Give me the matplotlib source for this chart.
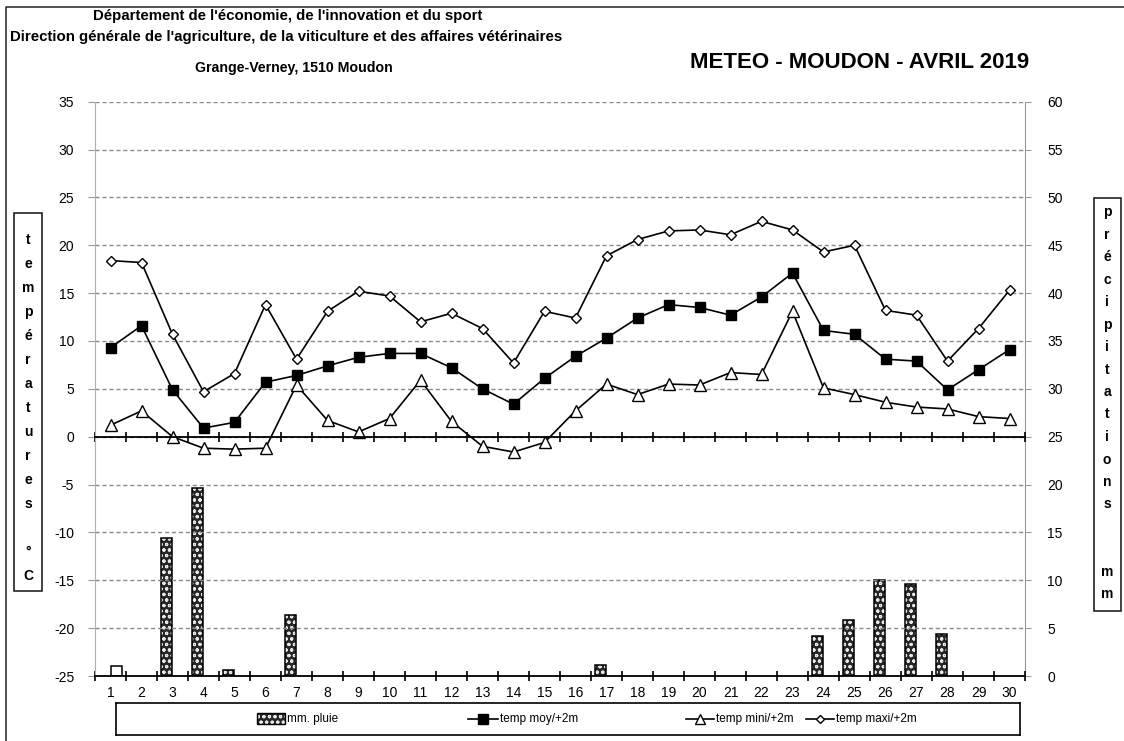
import numpy as np
import matplotlib
matplotlib.use('Agg')
import matplotlib.pyplot as plt
from matplotlib.patches import Rectangle
from matplotlib.lines import Line2D

plt.rcParams['font.family'] = ['Liberation Sans', 'DejaVu Sans']
plt.rcParams['hatch.linewidth'] = 0.8
plt.rcParams['axes.unicode_minus'] = False

# ---- données (avril 2019) ----
jours = list(range(1, 31))
temp_moy = [9.3, 11.6, 4.9, 0.9, 1.5, 5.7, 6.4, 7.4, 8.3, 8.7,
            8.7, 7.2, 5.0, 3.4, 6.1, 8.4, 10.3, 12.4, 13.8, 13.5,
            12.7, 14.6, 17.1, 11.1, 10.7, 8.1, 7.9, 4.9, 7.0, 9.1]
temp_mini = [1.2, 2.7, 0.0, -1.2, -1.3, -1.2, 5.4, 1.7, 0.5, 1.9,
             5.9, 1.6, -1.0, -1.6, -0.6, 2.7, 5.5, 4.4, 5.5, 5.4,
             6.7, 6.5, 13.1, 5.1, 4.4, 3.6, 3.1, 2.9, 2.1, 1.9]
temp_maxi = [18.4, 18.2, 10.7, 4.7, 6.6, 13.8, 8.1, 13.1, 15.2, 14.7,
             12.0, 12.9, 11.3, 7.7, 13.1, 12.4, 18.9, 20.6, 21.5, 21.6,
             21.1, 22.5, 21.6, 19.3, 20.0, 13.2, 12.7, 7.9, 11.3, 15.3]
pluie_mm = [0, 0, 14.4, 19.6, 0.6, 0, 6.4, 0, 0, 0,
            0, 0, 0, 0, 0, 0, 1.1, 0, 0, 0,
            0, 0, 0, 4.2, 5.8, 10.0, 9.6, 4.4, 0, 0]
autre_mm = [1.0, 0, 0, 0, 0, 0, 0, 0, 0, 0,
            0, 0, 0, 0, 0, 0, 0, 0, 0, 0,
            0, 0, 0, 0, 0, 0, 0, 0, 0, 0]

W, H = 1124, 741
fig = plt.figure(figsize=(W / 100, H / 100), dpi=100)
ax = fig.add_axes([95 / W, 1 - 676 / H, 930 / W, (676 - 101.7) / H])
ax2 = ax.twinx()

x = np.array(jours)
pl = np.array(pluie_mm, dtype=float)
au = np.array(autre_mm, dtype=float)
m = pl > 0
ax2.bar(x[m] - 0.18, pl[m], width=0.35, facecolor='#262626', edgecolor='#e8e8e8',
        hatch='ooo', linewidth=0)
ax2.bar(x[m] - 0.18, pl[m], width=0.35, fill=False, edgecolor='black', linewidth=1.1)
m2 = au > 0
ax2.bar(x[m2] + 0.2, au[m2], width=0.35, facecolor='white', edgecolor='black', linewidth=1.1)

ax.plot(jours, temp_maxi, color='black', lw=1.2, marker='D', ms=5.5,
        mfc='white', mec='black', mew=1)
ax.plot(jours, temp_mini, color='black', lw=1.2, marker='^', ms=8,
        mfc='white', mec='black', mew=1)
ax.plot(jours, temp_moy, color='black', lw=1.2, marker='s', ms=7,
        mfc='black', mec='black')

ax.set_zorder(ax2.get_zorder() + 1)
ax.patch.set_visible(False)

ax.set_xlim(0.5, 30.5)
ax.set_ylim(-25, 35)
ax2.set_ylim(0, 60)
ax.set_yticks(range(-25, 40, 5))
ax2.set_yticks(range(0, 65, 5))
ax.set_xticks(jours)
ax.set_xticks(np.arange(0.5, 31, 1), minor=True)

ax.yaxis.grid(True, linestyle=(0, (3, 2)), color='#8a8a8a', lw=1)
ax.set_axisbelow(True)

# axe horizontal a 0 degre
ax.spines['top'].set_position(('data', 0))
ax.spines['top'].set_color('black')
ax.spines['top'].set_linewidth(1.3)
ax.spines['bottom'].set_linewidth(1.3)
ax.spines['left'].set_color('#b0b0b0')
ax.spines['right'].set_visible(False)
ax2.spines['right'].set_color('#999999')
for s in ['top', 'bottom', 'left']:
    ax2.spines[s].set_visible(False)

ax.tick_params(axis='x', which='major', length=0, pad=7, labelsize=10)
ax.tick_params(axis='x', which='minor', top=True, bottom=True, direction='inout',
               length=7, width=1.2)
ax.tick_params(axis='y', length=5, color='#999999', pad=10, labelsize=10)
ax2.tick_params(axis='y', length=4, color='#999999', pad=12, labelsize=10)

# ---- textes ----
fig.text(288 / W, 1 - 16 / H, "Département de l'économie, de l'innovation et du sport",
         ha='center', va='center', fontsize=10.8, weight='bold')
fig.text(286 / W, 1 - 37 / H,
         "Direction générale de l'agriculture, de la viticulture et des affaires vétérinaires",
         ha='center', va='center', fontsize=10.8, weight='bold')
fig.text(294 / W, 1 - 68 / H, "Grange-Verney, 1510 Moudon",
         ha='center', va='center', fontsize=10.2, weight='bold')
fig.text(860 / W, 1 - 62 / H, "METEO - MOUDON - AVRIL 2019",
         ha='center', va='center', fontsize=16, weight='bold')

# cadre
fig.add_artist(Line2D([6 / W, 6 / W, 1], [0, 1 - 7 / H, 1 - 7 / H],
                      transform=fig.transFigure, color='#333333', lw=1.2))

# etiquettes verticales
fig.add_artist(Rectangle((14 / W, 1 - 591 / H), 28 / W, 378 / H, transform=fig.transFigure,
                         fill=False, edgecolor='#222222', lw=1.2))
gauche = list("températures") + ["", "°", "C"]
for i, c in enumerate(gauche):
    fig.text(28 / W, 1 - (240 + 24 * i) / H, c, ha='center', va='center',
             fontsize=10, weight='bold')

fig.add_artist(Rectangle((1094 / W, 1 - 611 / H), 27 / W, 413 / H, transform=fig.transFigure,
                         fill=False, edgecolor='#222222', lw=1.2))
droite = list("précipitations") + ["", "", "m", "m"]
for i, c in enumerate(droite):
    fig.text(1107 / W, 1 - (212 + 22.5 * i) / H, c, ha='center', va='center',
             fontsize=10, weight='bold')

# ---- legende ----
lg = fig.add_axes([116 / W, 1 - 735 / H, 904 / W, 32 / H])
lg.set_xlim(116, 1020)
lg.set_ylim(0, 1)
lg.set_xticks([])
lg.set_yticks([])
for s in lg.spines.values():
    s.set_linewidth(1.2)
lg.add_patch(Rectangle((257, 0.33), 28, 0.36, facecolor='#262626', edgecolor='#e8e8e8',
                       hatch='ooo', lw=0))
lg.add_patch(Rectangle((257, 0.33), 28, 0.36, fill=False, edgecolor='black', lw=1))
lg.text(287, 0.5, "mm. pluie", va='center', fontsize=8.5)
lg.plot([468, 498], [0.5, 0.5], color='black', lw=1.2)
lg.plot([483], [0.5], marker='s', ms=6.5, color='black')
lg.text(500, 0.5, "temp moy/+2m", va='center', fontsize=8.5)
lg.plot([686, 714], [0.5, 0.5], color='black', lw=1.2)
lg.plot([700], [0.5], marker='^', ms=6.5, mfc='white', mec='black')
lg.text(716, 0.5, "temp mini/+2m", va='center', fontsize=8.5)
lg.plot([806, 834], [0.5, 0.5], color='black', lw=1.2)
lg.plot([820], [0.5], marker='D', ms=4.5, mfc='white', mec='black')
lg.text(836, 0.5, "temp maxi/+2m", va='center', fontsize=8.5)

fig.savefig('out.png', dpi=100)
